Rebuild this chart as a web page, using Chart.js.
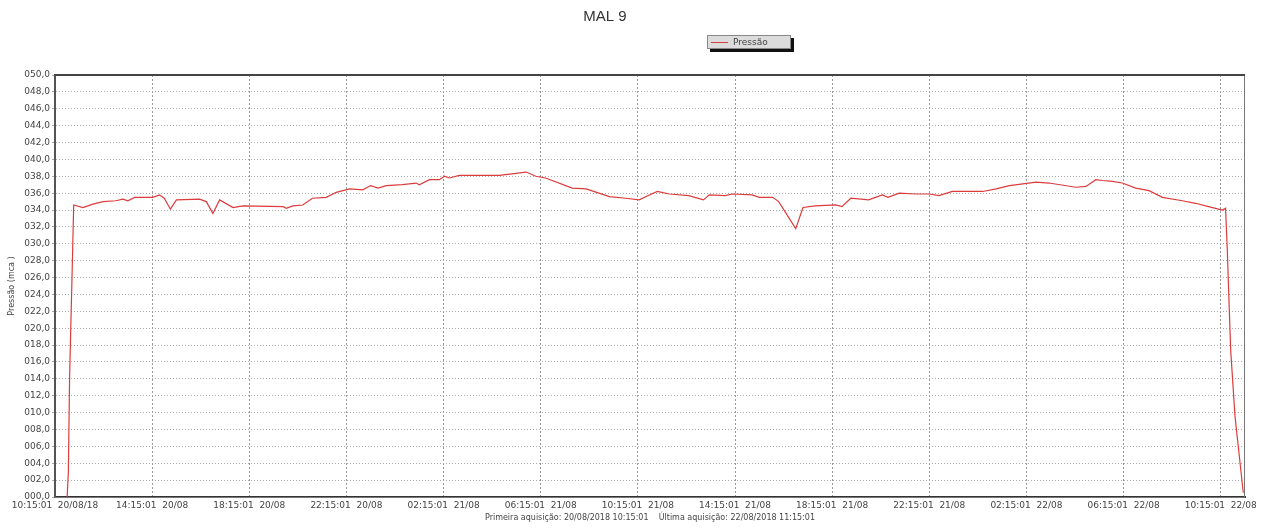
<!DOCTYPE html>
<html>
<head>
<meta charset="utf-8">
<script src="https://cdn.jsdelivr.net/npm/chart.js@4/dist/chart.umd.min.js"></script>
<style>
  html, body { margin: 0; padding: 0; background: #fff; }
  #wrap { width: 1261px; height: 529px; }
</style>
</head>
<body>
<div id="wrap"><canvas id="chart" width="1261" height="529"></canvas></div>
<script>
"use strict";

// hours since 20/08/18 10:15:01
const hours = [
  0.5, 0.55, 0.6, 0.7, 0.77, 1.15, 1.56, 1.98, 2.5, 2.8, 3.0, 3.28, 4.03, 4.3, 4.5, 4.75,
  5.0, 5.95, 6.23, 6.5, 6.78, 7.33, 7.74, 9.4, 9.52, 9.8, 10.2, 10.6, 11.17, 11.58, 12.13,
  12.67, 13.0, 13.3, 13.64, 14.3, 14.87, 15.0, 15.42, 15.83, 16.04, 16.24, 16.65, 18.3,
  19.4, 19.8, 20.2, 21.3, 21.87, 22.83, 23.5, 24.06, 24.34, 24.8, 25.3, 26.1, 26.7, 26.94,
  27.6, 27.9, 28.7, 29.0, 29.55, 29.8, 30.5, 30.8, 31.3, 32.15, 32.4, 32.77, 33.5, 34.07,
  34.3, 34.76, 35.45, 36.0, 36.4, 36.95, 38.2, 38.75, 39.3, 40.4, 40.93, 42.03, 42.45,
  42.86, 43.13, 43.54, 43.95, 44.5, 45.05, 45.6, 46.42, 46.97, 47.5, 48.07, 48.2, 48.27,
  48.41, 48.59, 48.93
];
const pressure = [
  0, 3, 14, 26, 34.6, 34.3, 34.7, 35.0, 35.1, 35.3, 35.1, 35.5, 35.5, 35.8, 35.4, 34.1,
  35.2, 35.3, 35.0, 33.6, 35.2, 34.3, 34.5, 34.4, 34.2, 34.5, 34.6, 35.4, 35.5, 36.1, 36.5,
  36.4, 36.9, 36.6, 36.9, 37.0, 37.2, 37.0, 37.6, 37.6, 38.0, 37.8, 38.1, 38.1,
  38.5, 38.0, 37.8, 36.6, 36.5, 35.6, 35.4, 35.2, 35.6, 36.2, 35.9, 35.7, 35.2, 35.8,
  35.7, 35.9, 35.8, 35.5, 35.5, 35.0, 31.8, 34.3, 34.5, 34.6, 34.4, 35.4, 35.2, 35.8,
  35.5, 36.0, 35.9, 35.9, 35.7, 36.2, 36.2, 36.5, 36.9, 37.3, 37.2, 36.7, 36.8,
  37.6, 37.5, 37.4, 37.2, 36.6, 36.3, 35.5, 35.1, 34.8, 34.4, 34.0, 34.2, 29.3,
  17.4, 9.5, 0.5
];

const xTickHours = [0, 4, 8, 12, 16, 20, 24, 28, 32, 36, 40, 44, 48];
const xTickLabels = [
  "10:15:01  20/08/18", "14:15:01  20/08", "18:15:01  20/08", "22:15:01  20/08",
  "02:15:01  21/08", "06:15:01  21/08", "10:15:01  21/08", "14:15:01  21/08",
  "18:15:01  21/08", "22:15:01  21/08", "02:15:01  22/08", "06:15:01  22/08",
  "10:15:01  22/08"
];

const chartTitle = "MAL 9";
const seriesName = "Pressão";
const yTitle = "Pressão (mca )";
const xTitle = "Primeira aquisição: 20/08/2018 10:15:01    Última aquisição: 22/08/2018 11:15:01";

const lineColor = "#dc3c3c";
const tickFont = { family: "DejaVu Sans", size: 9 };

// title, legend box, frame
const decorations = {
  id: "decorations",
  beforeDraw(chart) {
    const ctx = chart.ctx;
    ctx.save();
    ctx.fillStyle = "#fff";
    ctx.fillRect(0, 0, chart.width, chart.height);
    ctx.restore();
  },
  afterDraw(chart) {
    const ctx = chart.ctx;
    const a = chart.chartArea;
    ctx.save();
    ctx.fillStyle = "#333";
    ctx.font = "15px 'Liberation Sans'";
    ctx.textAlign = "center";
    ctx.textBaseline = "middle";
    ctx.fillText(chartTitle, 605, 17);

    // legend box with shadow
    ctx.fillStyle = "#111";
    ctx.fillRect(710, 38, 84, 14);
    ctx.fillStyle = "#dcdcdc";
    ctx.fillRect(707, 35, 84, 14);
    ctx.strokeStyle = "#888";
    ctx.lineWidth = 1;
    ctx.strokeRect(707.5, 35.5, 83, 13);
    ctx.strokeStyle = lineColor;
    ctx.beginPath();
    ctx.moveTo(711, 42.5);
    ctx.lineTo(728, 42.5);
    ctx.stroke();
    ctx.fillStyle = "#444";
    ctx.font = "9px 'DejaVu Sans'";
    ctx.textAlign = "left";
    ctx.fillText(seriesName, 733, 42.5);

    // plot frame
    ctx.strokeStyle = "#777";
    ctx.lineWidth = 1;
    ctx.strokeRect(a.left, a.top + 0.5, a.right - a.left - 0.5, a.bottom - a.top);
    ctx.strokeStyle = "#444";
    ctx.lineWidth = 2;
    ctx.beginPath();
    ctx.moveTo(a.left, a.top);
    ctx.lineTo(a.right, a.top);
    ctx.stroke();
    ctx.restore();
  }
};

new Chart(document.getElementById("chart").getContext("2d"), {
  type: "line",
  plugins: [decorations],
  data: {
    labels: hours,
    datasets: [
      {
        label: seriesName,
        data: hours.map((h, i) => ({ x: h, y: pressure[i] })),
        borderColor: lineColor,
        borderWidth: 1.2,
        pointRadius: 0,
        tension: 0,
        fill: false,
      },
    ],
  },
  options: {
    responsive: false,
    animation: false,
    layout: { padding: { top: 75, right: 16, left: 0, bottom: 0 } },
    plugins: {
      legend: { display: false },
      title: { display: false },
      tooltip: { enabled: false },
    },
    scales: {
      x: {
        type: "linear",
        min: 0,
        max: 49,
        afterBuildTicks: (scale) => {
          scale.ticks = xTickHours.map((v) => ({ value: v }));
        },
        afterFit: (scale) => {
          scale.height = 32;
        },
        ticks: {
          autoSkip: false,
          maxRotation: 0,
          padding: 3,
          color: "#444",
          font: tickFont,
          callback: (value) => {
            const i = xTickHours.indexOf(value);
            return i >= 0 ? xTickLabels[i] : "";
          },
        },
        grid: {
          color: "#999",
          drawTicks: false,
          tickLength: 0,
        },
        border: { display: true, color: "#333", width: 2, dash: [2, 2] },
        title: {
          display: true,
          text: xTitle,
          color: "#444",
          font: { family: "DejaVu Sans", size: 8 },
          padding: { top: 0, bottom: 6 },
        },
      },
      y: {
        min: 0,
        max: 50,
        afterFit: (scale) => {
          scale.width = 55;
        },
        ticks: {
          stepSize: 2,
          padding: 2,
          color: "#444",
          font: tickFont,
          callback: (value) => value.toFixed(1).padStart(5, "0").replace(".", ","),
        },
        grid: {
          color: "#aaa",
          tickLength: 3,
        },
        border: { display: true, color: "#333", width: 2, dash: [1, 2] },
        title: {
          display: true,
          text: yTitle,
          color: "#444",
          font: { family: "DejaVu Sans", size: 8 },
          padding: { top: 7, bottom: 0 },
        },
      },
    },
  },
});
</script>
</body>
</html>
